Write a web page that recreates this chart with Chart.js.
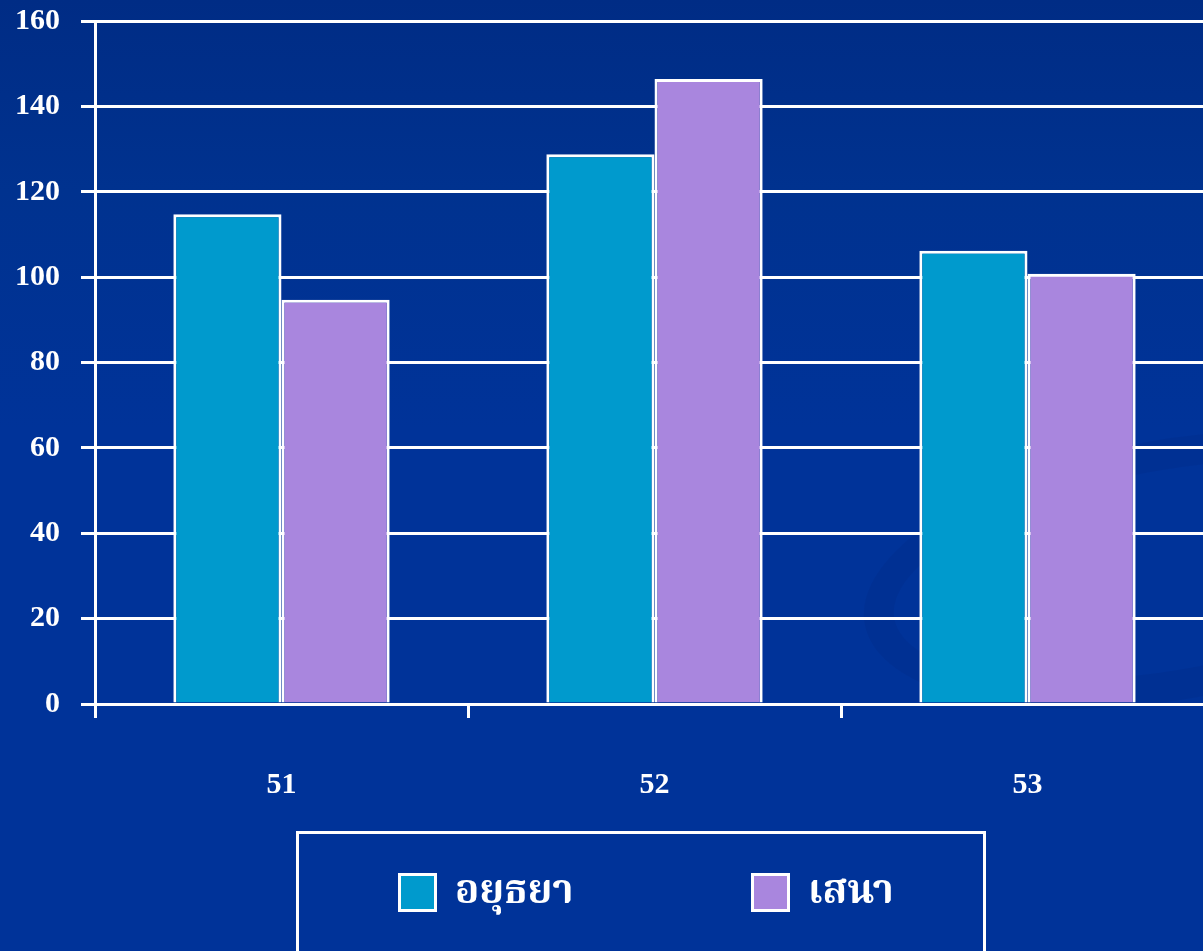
<!DOCTYPE html>
<html>
<head>
<meta charset="utf-8">
<script src="https://cdn.jsdelivr.net/npm/chart.js@4.4.0/dist/chart.umd.min.js"></script>
<style>
  html, body { margin: 0; padding: 0; overflow: hidden; }
  body {
    width: 1203px; height: 951px; position: relative;
    background: linear-gradient(180deg, #002c85 0%, #00328f 20%, #003399 45%, #003399 100%);
  }
  #swirl {
    position: absolute; left: 860px; top: 440px; width: 560px; height: 200px;
    border-radius: 50%; border: 30px solid rgba(0, 30, 110, 0.12);
    transform: rotate(-10deg);
  }
  #wrap { position: absolute; left: 0; top: 0; }
  #legend {
    position: absolute; left: 296px; top: 831px; width: 684px; height: 140px;
    border: 3px solid #fff;
  }
  .item { position: absolute; top: 38px; display: flex; align-items: center; }
  .box { width: 33px; height: 33px; border: 3px solid #fff; }
  .txt {
    color: #fff; font: bold 40px "Norasi", "Noto Serif Thai", "Loma", "Garuda", "Noto Sans Thai", Tahoma, sans-serif;
    margin-left: 18px; line-height: 40px;
  }
</style>
</head>
<body>
<div id="swirl"></div>
<div id="wrap"><canvas id="myChart" width="1216" height="951"></canvas></div>
<div id="legend">
  <div class="item" style="left:99px"><div class="box" style="background:#009acd"></div><span class="txt">อยุธยา</span></div>
  <div class="item" style="left:452px"><div class="box" style="background:#a986de"></div><span class="txt">เสนา</span></div>
</div>
<script>
var years = ["51", "52", "53"];
var ayutthaya = [114.7, 128.8, 106.2];
var sena = [94.7, 146.4, 100.8];
var yTicks = [0, 20, 40, 60, 80, 100, 120, 140, 160];

var barColors = ["#009acd", "#a986de"];
var tickFont = { family: "'Liberation Serif', 'Times New Roman', serif", size: 30, weight: "bold" };

new Chart("myChart", {
  type: "bar",
  data: {
    labels: years,
    datasets: [{
      label: "อยุธยา",
      data: ayutthaya,
      backgroundColor: barColors[0],
      borderColor: "#ffffff",
      borderWidth: 3,
      borderSkipped: "bottom"
    }, {
      label: "เสนา",
      data: sena,
      backgroundColor: barColors[1],
      borderColor: "#ffffff",
      borderWidth: 3,
      borderSkipped: "bottom"
    }]
  },
  options: {
    responsive: false,
    animation: false,
    categoryPercentage: 0.58,
    barPercentage: 1,
    layout: { padding: { top: 21, right: 2, left: 0, bottom: 0 } },
    plugins: {
      legend: { display: false },
      tooltip: { enabled: false }
    },
    scales: {
      x: {
        grid: { drawOnChartArea: false, color: "#ffffff", lineWidth: 3, tickLength: 14 },
        border: { color: "#ffffff", width: 3 },
        ticks: { color: "#ffffff", font: tickFont, padding: 49, maxRotation: 0 },
        afterFit: function (scale) {
          scale.height = 247;
          scale.paddingLeft = 0; scale.paddingRight = 0;
        }
      },
      y: {
        min: 0,
        max: 160,
        afterBuildTicks: function (scale) {
          scale.ticks = yTicks.map(function (v) { return { value: v }; });
        },
        grid: { color: "#ffffff", lineWidth: 3, tickLength: 14 },
        border: { color: "#ffffff", width: 3 },
        ticks: { color: "#ffffff", font: tickFont, padding: 21 },
        afterFit: function (scale) {
          scale.width = 95;
          scale.paddingTop = 0; scale.paddingBottom = 0;
        }
      }
    }
  }
});
</script>
</body>
</html>
